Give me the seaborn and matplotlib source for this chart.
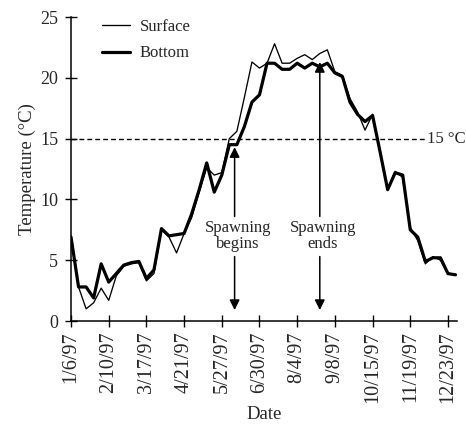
import matplotlib
matplotlib.use("Agg")
import matplotlib.pyplot as plt
import seaborn as sns
import numpy as np
import pandas as pd

# Weekly water temperature samples, 1997 (°C)
surface = [7.0, 2.8, 1.0, 1.5, 2.7, 1.7, 3.7, 4.5, 4.7, 4.8,
           3.3, 3.9, 7.5, 6.9, 5.6, 7.2, 8.5, 10.6, 12.6, 12.0,
           12.2, 15.0, 15.6, 18.4, 21.3, 20.8, 21.2, 22.8, 21.2, 21.2,
           21.6, 21.9, 21.5, 22.0, 22.3, 20.5, 20.2, 18.3, 17.2, 15.7,
           17.0, 13.9, 10.8, 12.3, 11.8, 7.7, 6.6, 4.7, 5.3, 5.0,
           3.9, 3.8]
bottom = [6.9, 2.8, 2.8, 1.9, 4.7, 3.2, 3.9, 4.6, 4.8, 4.9,
          3.5, 4.2, 7.6, 7.0, 7.1, 7.2, 8.8, 10.8, 13.0, 10.6,
          12.0, 14.5, 14.5, 16.0, 18.0, 18.6, 21.2, 21.2, 20.7, 20.7,
          21.2, 20.8, 21.2, 20.9, 21.2, 20.4, 20.1, 18.0, 17.0, 16.4,
          16.9, 13.9, 10.8, 12.2, 12.0, 7.5, 6.9, 4.9, 5.2, 5.2,
          3.9, 3.8]
date_labels = ["1/6/97", "2/10/97", "3/17/97", "4/21/97", "5/27/97", "6/30/97",
               "8/4/97", "9/8/97", "10/15/97", "11/19/97", "12/23/97"]
label_every = 5
threshold = 15
spawn_begin = 21.7   # sample position of spawning start
spawn_end = 33.0     # sample position of spawning end

sns.set_theme(style="ticks")
plt.rcParams["font.family"] = ["Liberation Serif", "DejaVu Serif"]

week = np.arange(len(surface))
df = pd.DataFrame({"week": week, "Surface": surface, "Bottom": bottom})

fig = plt.figure(figsize=(4.66, 4.24), dpi=100)
ax = fig.add_axes([0.1524, 0.2429, 0.8283, 0.7170])

sns.lineplot(data=df, x="week", y="Bottom", ax=ax, color="black", lw=2.3,
             label="Bottom", zorder=3)
sns.lineplot(data=df, x="week", y="Surface", ax=ax, color="black", lw=0.95,
             label="Surface", zorder=4)

# 15 °C reference line
ax.hlines(threshold, 0, 47, colors="black", linestyles=(0, (3.5, 2.2)), lw=1.0, zorder=2)
ax.text(47.2, threshold, "15 °C", ha="left", va="center", fontsize=12)

ax.set_xlim(0, 51.2)
ax.set_ylim(0, 25)
ax.set_yticks(range(0, 26, 5))
ax.set_xticks(week[::label_every])
ax.set_xticklabels(date_labels, rotation=90, fontsize=14.5)
ax.tick_params(axis="y", labelsize=13, pad=5)
ax.tick_params(direction="inout", length=8.6, width=1.0, color="black")
ax.tick_params(axis="x", pad=3)

for side in ("top", "right"):
    ax.spines[side].set_visible(False)
for side in ("left", "bottom"):
    ax.spines[side].set_linewidth(1.1)
    ax.spines[side].set_color("black")

ax.set_xlabel("Date", fontsize=13.5, labelpad=2)
ax.set_ylabel("Temperature (°C)", fontsize=13.5, labelpad=3)

# Spawning period markers
arrow = dict(arrowstyle="-|>", color="black", lw=1.1, mutation_scale=15, shrinkA=0, shrinkB=0)
for xpos, word, tip in ((spawn_begin, "begins", 14.3), (spawn_end, "ends", 21.3)):
    ax.annotate("", xy=(xpos, tip), xytext=(xpos, 8.6), arrowprops=arrow)
    ax.annotate("", xy=(xpos, 0.9), xytext=(xpos, 5.3), arrowprops=arrow)
    ax.text(xpos + 0.4, 7.0, "Spawning\n" + word, ha="center", va="center",
            fontsize=12, linespacing=1.05)

handles, labels = ax.get_legend_handles_labels()
order = [labels.index("Surface"), labels.index("Bottom")]
ax.legend([handles[i] for i in order], [labels[i] for i in order],
          loc="upper left", bbox_to_anchor=(0.08, 0.995), frameon=False,
          fontsize=12, handlelength=1.7, handletextpad=0.55, labelspacing=0.65,
          borderpad=0, borderaxespad=0)

fig.savefig("out.png", dpi=100)
